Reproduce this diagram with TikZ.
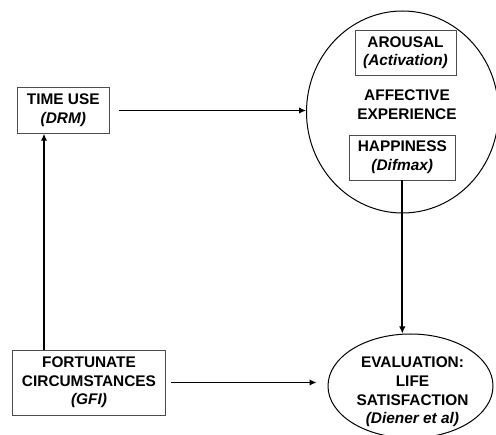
\documentclass[tikz,border=0pt]{standalone}
\usepackage{fontspec}
\setmainfont{Liberation Sans}
\usepackage{tikz}
\usetikzlibrary{shapes.geometric}
\usetikzlibrary{arrows.meta}
\usetikzlibrary{calc}
\tikzset{
    box/.style={draw=black!70,line width=0.9pt,align=center,inner sep=0pt},
    blob/.style={draw=black,ellipse,line width=1pt,inner sep=0pt},
    lbl/.style={align=center,inner sep=0pt},
    flow/.style={line width=1.7pt,-{Latex[length=7pt,width=6.5pt]}}
}
\newcommand\src[1]{\textit{#1}}

\begin{document}
\begin{tikzpicture}[x=1pt,y=-1pt,font=\fontsize{15.4}{18.7}\selectfont\bfseries]
            \useasboundingbox (0,0) rectangle (496,435);

            %%% BOXES %%%
            \node[box,minimum width=92pt,minimum height=45.6pt] (time) at (63.3,110.5) {TIME USE\\\src{(DRM)}};
            \node[box,minimum width=153pt,minimum height=65pt] (fort) at (89,382.5) {FORTUNATE\\CIRCUMSTANCES\\\src{(GFI)}};

            %%% AFFECT %%%
            \node[blob,minimum width=192pt,minimum height=202pt] (affect) at (402.5,112) {};
            \node[box,minimum width=101pt,minimum height=45pt] (arousal) at (405.5,52.7) {AROUSAL\\\src{(Activation)}};
            \node[lbl] (afflbl) at (407,105) {AFFECTIVE\\EXPERIENCE};
            \node[box,minimum width=106pt,minimum height=45pt] (happy) at (402.3,157.5) {HAPPINESS\\\src{(Difmax)}};

            %%% EVALUATION %%%
            \node[blob,minimum width=165pt,minimum height=104pt] (eval) at (410.5,386) {};
            \node[lbl] (evallbl) at (412.5,392) {EVALUATION:\\LIFE\\SATISFACTION\\\src{(Diener et al)}};

            %%% ARROWS %%%
            \coordinate (upx) at (44,0);
            \draw[flow] ([xshift=9pt]time.east) -- (time.east -| affect.west);
            \draw[flow] (fort.north -| upx) -- (time.south -| upx);
            \draw[flow] ([xshift=5pt]fort.east) -- ($(fort.east -| eval.west)+(-11,0)$);
            \draw[flow] (happy.south) -- (happy.south |- eval.north);
\end{tikzpicture}
\end{document}
